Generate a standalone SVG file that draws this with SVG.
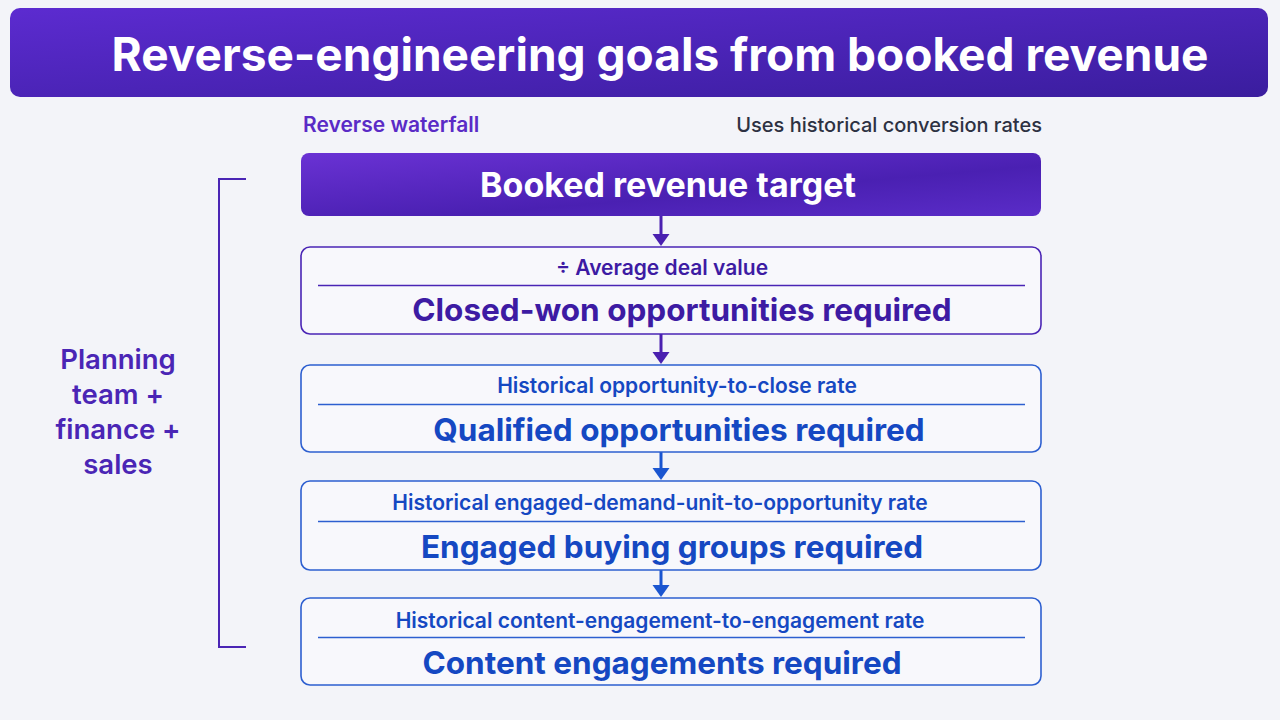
<svg xmlns="http://www.w3.org/2000/svg" width="1280" height="720" viewBox="0 0 1280 720">
<defs>
<linearGradient id="gTitle" x1="0" y1="0" x2="1" y2="1">
<stop offset="0" stop-color="#5c2bd0"/><stop offset="1" stop-color="#3a1d9e"/>
</linearGradient>
<linearGradient id="gTop" x1="0" y1="0" x2="1" y2="1">
<stop offset="0" stop-color="#6a32d4"/><stop offset="0.6" stop-color="#4a20b2"/><stop offset="1" stop-color="#5a2cc8"/>
</linearGradient>
<path id="head" d="M-8.5,-12 L8.5,-12 L0,0 z"/>
</defs>
<style>
text{font-family:Inter,"Noto Sans","Liberation Sans",sans-serif;font-weight:700;text-anchor:middle}
.box{fill:#f8f8fc;stroke-width:1.6}
.bp{stroke:#4a25b5}
.bb{stroke:#2d5fd0}
.div{stroke-width:1.3}
.sub{font-size:21px;font-weight:600}
.main{font-size:31.5px}
.tp{fill:#3d1ba3}
.tb{fill:#1548c2}
.cp{stroke:#4a20b0;stroke-width:3;fill:none}
.cb{stroke:#1a55d0;stroke-width:3;fill:none}
</style>
<rect width="1280" height="720" fill="#f3f4f9"/>
<g id="title">
<rect x="10" y="8" width="1258" height="89" rx="10" fill="url(#gTitle)"/>
<text x="660" y="71" font-size="46" fill="#ffffff">Reverse-engineering goals from booked revenue</text>
</g>
<g id="labels">
<text x="303" y="132" font-size="21" fill="#5a2bc6" style="text-anchor:start;font-weight:600">Reverse waterfall</text>
<text x="1042" y="132" font-size="20" fill="#2d3142" style="text-anchor:end;font-weight:500">Uses historical conversion rates</text>
</g>
<g id="bracket">
<path d="M246,179 H219 V647 H246" fill="none" stroke="#4a25b5" stroke-width="2"/>
<text x="118" font-size="27.5" fill="#4a25b5" style="font-weight:600"><tspan x="118" y="369">Planning</tspan><tspan x="118" y="404">team +</tspan><tspan x="118" y="439">finance +</tspan><tspan x="118" y="474">sales</tspan></text>
</g>
<g id="connectors">
<line class="cp" x1="661" y1="216" x2="661" y2="236"/>
<use href="#head" x="661" y="246" fill="#4a20b0"/>
<line class="cp" x1="661" y1="334" x2="661" y2="354"/>
<use href="#head" x="661" y="364" fill="#4a20b0"/>
<line class="cb" x1="661" y1="452" x2="661" y2="470"/>
<use href="#head" x="661" y="480" fill="#1a55d0"/>
<line class="cb" x1="661" y1="570" x2="661" y2="587"/>
<use href="#head" x="661" y="597" fill="#1a55d0"/>
</g>
<g id="target">
<rect x="301" y="153" width="740" height="63" rx="8" fill="url(#gTop)"/>
<text x="668" y="197" font-size="34" fill="#ffffff">Booked revenue target</text>
</g>
<g id="closed-won">
<rect class="box bp" x="301" y="247" width="740" height="87" rx="9"/>
<text class="sub tp" x="662" y="275">÷ Average deal value</text>
<line class="div" x1="318" y1="285.5" x2="1025" y2="285.5" stroke="#4a25b5"/>
<text class="main tp" x="682" y="321">Closed-won opportunities required</text>
</g>
<g id="qualified">
<rect class="box bb" x="301" y="365" width="740" height="87" rx="9"/>
<text class="sub tb" x="677" y="393">Historical opportunity-to-close rate</text>
<line class="div" x1="318" y1="404.5" x2="1025" y2="404.5" stroke="#2d5fd0"/>
<text class="main tb" x="679" y="441">Qualified opportunities required</text>
</g>
<g id="engaged">
<rect class="box bb" x="301" y="481" width="740" height="89" rx="9"/>
<text class="sub tb" x="660" y="510">Historical engaged-demand-unit-to-opportunity rate</text>
<line class="div" x1="318" y1="521.5" x2="1025" y2="521.5" stroke="#2d5fd0"/>
<text class="main tb" x="672" y="558">Engaged buying groups required</text>
</g>
<g id="content">
<rect class="box bb" x="301" y="598" width="740" height="87" rx="9"/>
<text class="sub tb" x="660" y="628">Historical content-engagement-to-engagement rate</text>
<line class="div" x1="318" y1="637.5" x2="1025" y2="637.5" stroke="#2d5fd0"/>
<text class="main tb" x="662" y="674">Content engagements required</text>
</g>
</svg>
